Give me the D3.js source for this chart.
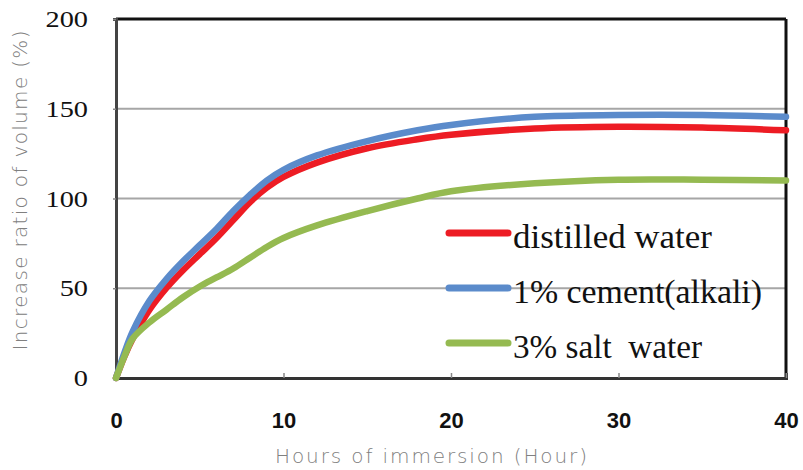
<!DOCTYPE html>
<html>
<head>
<meta charset="utf-8">
<script src="https://cdn.jsdelivr.net/npm/d3@7"></script>
<style>
  body { margin: 0; background: #fff; }
</style>
</head>
<body>
<div id="chart"></div>
<script>
// hours of immersion
const hours = [0, 0.5, 1, 2, 3, 4, 5, 6, 7, 8, 9, 10, 12, 15, 18, 20, 25, 30, 35, 40];
// increase ratio of volume (%)
const distilled = [0, 12, 22, 38, 50, 60, 69, 78, 88, 98, 106, 112, 120, 128, 133, 135.5, 139, 140, 139.5, 138];
const cement = [0, 14, 26, 43, 55, 65, 74, 83, 93, 102, 110, 116, 124, 132, 138, 141, 145.5, 146.5, 146.5, 145.5];
const salt = [0, 12, 22, 31, 38, 45, 51, 56, 61, 67, 73, 78, 85, 93, 100, 104, 108.5, 110.5, 110.5, 110];

const seriesNames = ['distilled water', '1% cement(alkali)', '3% salt  water'];
const seriesColors = ['#ed1c24', '#5b8bcb', '#95ba51'];
const xTicks = [0, 10, 20, 30, 40];
const yTicks = [0, 50, 100, 150, 200];

// legend label widths in the source picture
const legendWidths = [199, 249, 189];

const serif = 'Liberation Serif';
const W = 803, H = 470;
const margin = { top: 19, right: 17, bottom: 92, left: 116 };
const width = W - margin.left - margin.right;
const height = H - margin.top - margin.bottom;

// the source picture is a little stretched sideways
const stretch = function (k) {
    return function () {
        const len = this.getComputedTextLength();
        d3.select(this).attr('textLength', len * k).attr('lengthAdjust', 'spacingAndGlyphs');
    };
};

const xScale = d3.scaleLinear().domain([0, 40]).range([0, width]);
const yScale = d3.scaleLinear().domain([0, 200]).range([height, 0]);

const svg = d3.select('#chart')
    .append('svg')
    .attr('width', W)
    .attr('height', H)
    .append('g')
    .attr('transform', `translate(${margin.left}, ${margin.top})`);

// gridlines
svg.selectAll('.grid')
    .data([50, 100, 150])
    .enter()
    .append('line')
    .attr('x1', 0)
    .attr('x2', width)
    .attr('y1', d => yScale(d))
    .attr('y2', d => yScale(d))
    .attr('stroke', '#a6a6a6')
    .attr('stroke-width', 2);

// frame
svg.append('line').attr('x1', 0).attr('x2', width).attr('y1', 0).attr('y2', 0)
    .attr('stroke', '#111').attr('stroke-width', 3);
svg.append('line').attr('x1', width).attr('x2', width).attr('y1', 0).attr('y2', height)
    .attr('stroke', '#111').attr('stroke-width', 3);

// x axis
const xAxis = svg.append('g')
    .attr('transform', `translate(0, ${height})`)
    .call(d3.axisBottom(xScale).tickValues(xTicks).tickSize(-5).tickPadding(34));
xAxis.attr('font-family', 'Liberation Sans').attr('font-size', 22).attr('font-weight', 'bold');
xAxis.select('.domain').attr('stroke', '#333').attr('stroke-width', 3);
xAxis.selectAll('.tick line').attr('stroke', '#888').attr('stroke-width', 1.5);
xAxis.selectAll('text').attr('fill', '#111');

// y axis
const yAxis = svg.append('g')
    .call(d3.axisLeft(yScale).tickValues(yTicks).tickSize(3).tickPadding(25));
yAxis.attr('font-family', serif).attr('font-size', 24);
yAxis.select('.domain').attr('stroke', '#444').attr('stroke-width', 3);
yAxis.selectAll('.tick line').attr('stroke', '#888').attr('stroke-width', 1.5);
yAxis.selectAll('text').attr('fill', '#111').each(stretch(1.18));

// curves
const line = d3.line()
    .x(d => xScale(d[0]))
    .y(d => yScale(d[1]))
    .curve(d3.curveCatmullRom.alpha(0.5));

[distilled, cement, salt].forEach((vals, i) => {
    svg.append('path')
        .datum(hours.map((h, j) => [h, vals[j]]))
        .attr('fill', 'none')
        .attr('stroke', seriesColors[i])
        .attr('stroke-width', 6.5)
        .attr('stroke-linecap', 'round')
        .attr('d', line);
});

// legend
const legend = svg.selectAll('.legend')
    .data(seriesNames)
    .enter()
    .append('g')
    .attr('transform', (d, i) => `translate(333, ${214 + i * 55})`);
legend.append('line')
    .attr('x1', 0).attr('x2', 59)
    .attr('stroke', (d, i) => seriesColors[i])
    .attr('stroke-width', 7)
    .attr('stroke-linecap', 'round');
legend.append('text')
    .attr('x', 64)
    .attr('y', 15)
    .attr('font-family', serif)
    .attr('font-size', 33)
    .attr('xml:space', 'preserve')
    .style('white-space', 'pre')
    .attr('fill', '#111')
    .attr('textLength', (d, i) => legendWidths[i])
    .attr('lengthAdjust', 'spacingAndGlyphs')
    .text(d => d);

// axis titles
svg.append('text')
    .attr('x', width / 2 - 20)
    .attr('y', height + 85)
    .attr('text-anchor', 'middle')
    .attr('textLength', 312)
    .attr('lengthAdjust', 'spacing')
    .attr('font-family', 'DejaVu Sans')
    .attr('font-weight', 200)
    .attr('font-size', 20)
    .attr('fill', '#808080')
    .text('Hours of immersion (Hour)');

svg.append('text')
    .attr('transform', `translate(${-89}, ${height / 2 - 8}) rotate(-90)`)
    .attr('text-anchor', 'middle')
    .attr('textLength', 320)
    .attr('lengthAdjust', 'spacing')
    .attr('font-family', 'DejaVu Sans')
    .attr('font-weight', 200)
    .attr('font-size', 20)
    .attr('fill', '#808080')
    .text('Increase ratio of volume (%)');
</script>
</body>
</html>
